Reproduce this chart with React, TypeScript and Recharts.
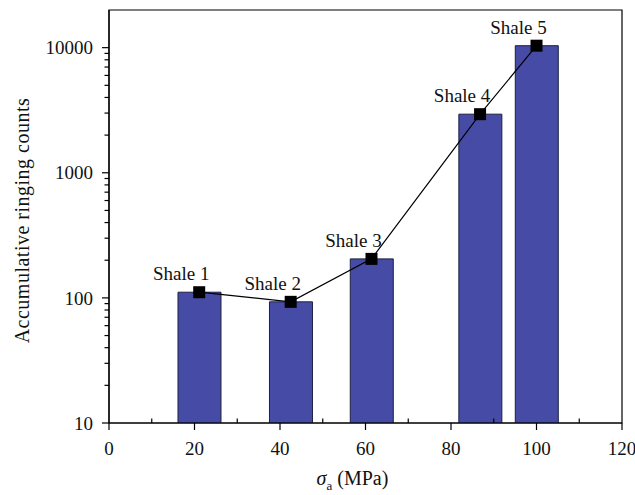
import {
  Bar,
  ComposedChart,
  LabelList,
  Line,
  ReferenceArea,
  XAxis,
  YAxis,
} from 'recharts'

// σa at which each shale sample was tested, and its accumulated AE ringing counts
const sigmaA = [21.1, 42.5, 61.4, 86.8, 100]
const ringingCounts = [111, 93, 205, 2940, 10370]
const sampleNames = ['Shale 1', 'Shale 2', 'Shale 3', 'Shale 4', 'Shale 5']

const xTicks = [0, 10, 20, 30, 40, 50, 60, 70, 80, 90, 100, 110, 120]
const xLabelTicks = [0, 20, 40, 60, 80, 100, 120]
const yDecades = [10, 100, 1000, 10000]
const yMinorSteps = [1, 2, 3, 4, 5, 6, 7, 8, 9]

const yTicks = yDecades
  .slice(0, -1)
  .flatMap((d) => yMinorSteps.map((m) => d * m))
  .concat(yDecades[yDecades.length - 1])

const data = sigmaA.map((s, i) => ({
  sigma: s,
  counts: ringingCounts[i],
  name: sampleNames[i],
}))

const FONT = '"Liberation Serif", "DejaVu Serif", serif'
const AXIS = '#000'
const textStyle = { fontFamily: FONT, fontSize: 19, fill: '#111' }

function YTick({ x, payload }: any) {
  const y = payload.coordinate
  const major = yDecades.includes(payload.value)
  return (
    <g>
      <line x1={x} x2={x - (major ? 7 : 4.5)} y1={y} y2={y} stroke={AXIS} strokeWidth={1.2} />
      {major && (
        <text x={x - 16} y={y} dy="0.35em" textAnchor="end" style={textStyle}>
          {payload.value}
        </text>
      )}
    </g>
  )
}

function XTick({ y, payload }: any) {
  const x = payload.coordinate
  const major = xLabelTicks.includes(payload.value)
  return (
    <g>
      {/* labelled ticks point out, the in-between ones point into the plot */}
      <line x1={x} x2={x} y1={y} y2={major ? y + 7 : y - 4.5} stroke={AXIS} strokeWidth={1.2} />
      {major && (
        <text x={x} y={y + 25} dy="0.35em" textAnchor="middle" style={textStyle}>
          {payload.value}
        </text>
      )}
    </g>
  )
}

function YTitle({ viewBox }: any) {
  const cx = viewBox.x - 7
  const cy = viewBox.y + viewBox.height / 2 + 4
  return (
    <text
      x={cx}
      y={cy}
      dy="0.35em"
      transform={`rotate(-90 ${cx} ${cy})`}
      textAnchor="middle"
      style={{ ...textStyle, fontSize: 20, letterSpacing: 0.5 }}
    >
      Accumulative ringing counts
    </text>
  )
}

function XTitle({ viewBox }: any) {
  const cx = viewBox.x + viewBox.width / 2 - 13
  return (
    <text x={cx} y={viewBox.y + 62} textAnchor="middle" style={{ ...textStyle, fontSize: 20 }}>
      <tspan fontStyle="italic">σ</tspan>
      <tspan fontSize={13} dy={5}>a</tspan>
      <tspan dy={-5}> (MPa)</tspan>
    </text>
  )
}

function SquareDot({ cx, cy, index }: any) {
  return <rect key={index} x={cx - 6} y={cy - 6} width={12} height={12} fill="#000" />
}

function SampleLabel({ x, y, index }: any) {
  return (
    <text x={x - 18} y={y - 12} textAnchor="middle" style={textStyle}>
      {sampleNames[index]}
    </text>
  )
}

export default function App() {
  return (
    <div style={{ position: 'absolute', left: 0, top: 0, background: '#fff', fontFamily: FONT }}>
      <ComposedChart
        width={635}
        height={495}
        data={data}
        margin={{ top: 10, right: 13, bottom: 32, left: 29 }}
        style={{ fontFamily: FONT }}
      >
        <XAxis
          dataKey="sigma"
          type="number"
          domain={[0, 120]}
          ticks={xTicks}
          interval={0}
          tickSize={0}
          tickMargin={0}
          tickLine={false}
          tick={<XTick />}
          height={40}
          axisLine={{ stroke: AXIS, strokeWidth: 1.2 }}
          label={<XTitle />}
        />
        <YAxis
          type="number"
          scale="log"
          domain={[10, 20000]}
          allowDataOverflow
          ticks={yTicks}
          interval={0}
          tickSize={0}
          tickMargin={0}
          tickLine={false}
          tick={<YTick />}
          width={80}
          axisLine={{ stroke: AXIS, strokeWidth: 1.2 }}
          label={<YTitle />}
        />
        <ReferenceArea
          x1={0}
          x2={120}
          y1={10}
          y2={20000}
          fill="none"
          stroke={AXIS}
          strokeWidth={1.2}
          ifOverflow="visible"
        />
        <Bar
          dataKey="counts"
          barSize={43}
          fill="#464ca6"
          stroke="#1c1f40"
          strokeWidth={1}
          isAnimationActive={false}
        />
        <Line
          dataKey="counts"
          type="linear"
          stroke="#000"
          strokeWidth={1.2}
          dot={<SquareDot />}
          activeDot={false}
          isAnimationActive={false}
        >
          <LabelList dataKey="name" content={<SampleLabel />} />
        </Line>
      </ComposedChart>
    </div>
  )
}
